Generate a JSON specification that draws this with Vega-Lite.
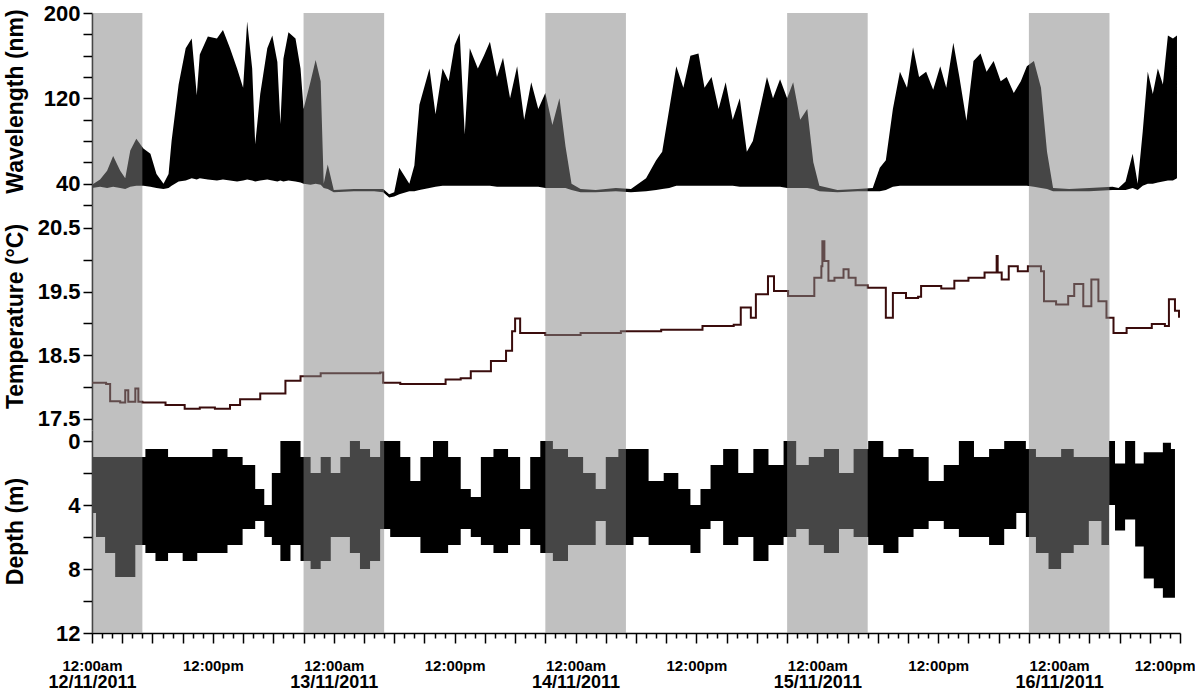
{
  "$schema": "https://vega.github.io/schema/vega-lite/v6.json",
  "background": "white",
  "padding": {"left": 3, "top": 2, "right": 0, "bottom": 0},
  "spacing": 0,
  "bounds": "flush",
  "config": {
    "view": {"stroke": null},
    "font": "Liberation Sans",
    "concat": {"spacing": 0},
    "axis": {
      "grid": false,
      "zindex": 1,
      "domainColor": "black",
      "domainWidth": 1.5,
      "tickColor": "black",
      "tickWidth": 1.5,
      "labelColor": "black",
      "titleColor": "black",
      "labelFont": "Liberation Sans",
      "titleFont": "Liberation Sans",
      "labelFontWeight": "bold",
      "titleFontWeight": "bold",
      "labelFontSize": 22,
      "titleFontSize": 23,
      "labelOverlap": false,
      "labelFlush": false
    }
  },
  "datasets": {
    "night": [
      {"start": 0, "end": 5},
      {"start": 21, "end": 29},
      {"start": 45, "end": 53},
      {"start": 69, "end": 77},
      {"start": 93, "end": 101}
    ],
    "wave": [
      {"hour": 0.0, "lo": 36, "hi": 39}, {"hour": 0.8, "lo": 37, "hi": 44}, {"hour": 1.5, "lo": 36, "hi": 52},
      {"hour": 2.1, "lo": 37, "hi": 66}, {"hour": 2.8, "lo": 36, "hi": 52}, {"hour": 3.3, "lo": 35, "hi": 45},
      {"hour": 3.8, "lo": 37, "hi": 71}, {"hour": 4.4, "lo": 38, "hi": 82}, {"hour": 5.1, "lo": 38, "hi": 73},
      {"hour": 5.8, "lo": 37, "hi": 68}, {"hour": 6.4, "lo": 36, "hi": 49}, {"hour": 7.1, "lo": 35, "hi": 40},
      {"hour": 7.6, "lo": 36, "hi": 49}, {"hour": 7.9, "lo": 38, "hi": 80}, {"hour": 8.6, "lo": 42, "hi": 133},
      {"hour": 9.3, "lo": 43, "hi": 167}, {"hour": 9.9, "lo": 45, "hi": 176}, {"hour": 10.4, "lo": 44, "hi": 123},
      {"hour": 10.7, "lo": 45, "hi": 161}, {"hour": 11.5, "lo": 44, "hi": 178}, {"hour": 12.4, "lo": 43, "hi": 176},
      {"hour": 13.0, "lo": 44, "hi": 184}, {"hour": 13.7, "lo": 43, "hi": 167}, {"hour": 14.4, "lo": 42, "hi": 148},
      {"hour": 15.0, "lo": 43, "hi": 130}, {"hour": 15.4, "lo": 44, "hi": 192}, {"hour": 15.9, "lo": 43, "hi": 148},
      {"hour": 16.2, "lo": 42, "hi": 77}, {"hour": 16.7, "lo": 43, "hi": 124}, {"hour": 17.4, "lo": 44, "hi": 167},
      {"hour": 17.9, "lo": 43, "hi": 179}, {"hour": 18.4, "lo": 42, "hi": 154}, {"hour": 18.7, "lo": 43, "hi": 96},
      {"hour": 19.0, "lo": 42, "hi": 157}, {"hour": 19.5, "lo": 43, "hi": 182}, {"hour": 20.2, "lo": 42, "hi": 176},
      {"hour": 20.7, "lo": 41, "hi": 148}, {"hour": 21.0, "lo": 40, "hi": 110}, {"hour": 21.7, "lo": 39, "hi": 136},
      {"hour": 22.2, "lo": 40, "hi": 156}, {"hour": 22.7, "lo": 39, "hi": 136}, {"hour": 23.0, "lo": 36, "hi": 40},
      {"hour": 23.4, "lo": 35, "hi": 58}, {"hour": 24.0, "lo": 32, "hi": 34}, {"hour": 26.0, "lo": 33, "hi": 35},
      {"hour": 28.0, "lo": 33, "hi": 35}, {"hour": 28.9, "lo": 32, "hi": 35}, {"hour": 29.5, "lo": 27, "hi": 30},
      {"hour": 30.0, "lo": 28, "hi": 32}, {"hour": 30.5, "lo": 30, "hi": 55}, {"hour": 31.5, "lo": 33, "hi": 40},
      {"hour": 32.0, "lo": 33, "hi": 57}, {"hour": 32.5, "lo": 34, "hi": 114}, {"hour": 33.5, "lo": 36, "hi": 148},
      {"hour": 34.1, "lo": 37, "hi": 105}, {"hour": 34.8, "lo": 38, "hi": 148}, {"hour": 35.4, "lo": 38, "hi": 136},
      {"hour": 36.0, "lo": 38, "hi": 170}, {"hour": 36.5, "lo": 38, "hi": 181}, {"hour": 37.0, "lo": 38, "hi": 86},
      {"hour": 37.5, "lo": 38, "hi": 167}, {"hour": 38.3, "lo": 38, "hi": 148}, {"hour": 38.9, "lo": 38, "hi": 160},
      {"hour": 39.5, "lo": 38, "hi": 173}, {"hour": 40.2, "lo": 37, "hi": 140}, {"hour": 40.8, "lo": 37, "hi": 158},
      {"hour": 41.5, "lo": 37, "hi": 120}, {"hour": 42.2, "lo": 37, "hi": 150}, {"hour": 42.9, "lo": 37, "hi": 100},
      {"hour": 43.6, "lo": 37, "hi": 135}, {"hour": 44.3, "lo": 37, "hi": 110}, {"hour": 45.0, "lo": 36, "hi": 125},
      {"hour": 45.7, "lo": 36, "hi": 95}, {"hour": 46.4, "lo": 36, "hi": 120}, {"hour": 47.0, "lo": 36, "hi": 75},
      {"hour": 47.6, "lo": 34, "hi": 40}, {"hour": 48.5, "lo": 32, "hi": 35}, {"hour": 50.0, "lo": 32, "hi": 34},
      {"hour": 52.0, "lo": 33, "hi": 36}, {"hour": 53.5, "lo": 32, "hi": 35}, {"hour": 55.0, "lo": 33, "hi": 45},
      {"hour": 56.0, "lo": 34, "hi": 62}, {"hour": 56.6, "lo": 35, "hi": 70}, {"hour": 57.3, "lo": 36, "hi": 110},
      {"hour": 58.0, "lo": 38, "hi": 150}, {"hour": 58.7, "lo": 38, "hi": 130}, {"hour": 59.4, "lo": 38, "hi": 160},
      {"hour": 60.2, "lo": 38, "hi": 162}, {"hour": 60.8, "lo": 38, "hi": 130}, {"hour": 61.5, "lo": 38, "hi": 140},
      {"hour": 62.2, "lo": 38, "hi": 110}, {"hour": 62.9, "lo": 38, "hi": 135}, {"hour": 63.6, "lo": 38, "hi": 100},
      {"hour": 64.3, "lo": 37, "hi": 120}, {"hour": 65.0, "lo": 37, "hi": 70}, {"hour": 65.6, "lo": 37, "hi": 80},
      {"hour": 66.3, "lo": 37, "hi": 110}, {"hour": 67.0, "lo": 37, "hi": 140}, {"hour": 67.6, "lo": 37, "hi": 120},
      {"hour": 68.3, "lo": 37, "hi": 138}, {"hour": 69.0, "lo": 36, "hi": 120}, {"hour": 69.6, "lo": 36, "hi": 135},
      {"hour": 70.3, "lo": 36, "hi": 100}, {"hour": 71.0, "lo": 36, "hi": 110}, {"hour": 71.6, "lo": 35, "hi": 60},
      {"hour": 72.2, "lo": 33, "hi": 38}, {"hour": 74.0, "lo": 32, "hi": 34}, {"hour": 76.0, "lo": 33, "hi": 35},
      {"hour": 77.5, "lo": 33, "hi": 36}, {"hour": 78.2, "lo": 33, "hi": 55}, {"hour": 78.8, "lo": 34, "hi": 62},
      {"hour": 79.5, "lo": 37, "hi": 110}, {"hour": 80.2, "lo": 38, "hi": 145}, {"hour": 80.9, "lo": 38, "hi": 130},
      {"hour": 81.5, "lo": 38, "hi": 168}, {"hour": 82.1, "lo": 38, "hi": 140}, {"hour": 82.8, "lo": 38, "hi": 145},
      {"hour": 83.5, "lo": 38, "hi": 128}, {"hour": 84.2, "lo": 38, "hi": 150}, {"hour": 84.8, "lo": 38, "hi": 130},
      {"hour": 85.5, "lo": 38, "hi": 172}, {"hour": 86.1, "lo": 38, "hi": 140}, {"hour": 86.8, "lo": 38, "hi": 99},
      {"hour": 87.5, "lo": 38, "hi": 155}, {"hour": 88.2, "lo": 38, "hi": 162}, {"hour": 88.8, "lo": 38, "hi": 145},
      {"hour": 89.5, "lo": 38, "hi": 155}, {"hour": 90.2, "lo": 38, "hi": 136}, {"hour": 90.8, "lo": 38, "hi": 140},
      {"hour": 91.5, "lo": 38, "hi": 125}, {"hour": 92.2, "lo": 38, "hi": 136}, {"hour": 92.8, "lo": 38, "hi": 150},
      {"hour": 93.5, "lo": 37, "hi": 155}, {"hour": 94.2, "lo": 36, "hi": 130}, {"hour": 94.8, "lo": 35, "hi": 70},
      {"hour": 95.4, "lo": 33, "hi": 36}, {"hour": 97.0, "lo": 33, "hi": 35}, {"hour": 99.0, "lo": 33, "hi": 36},
      {"hour": 101.3, "lo": 34, "hi": 37}, {"hour": 101.9, "lo": 34, "hi": 36}, {"hour": 102.6, "lo": 34, "hi": 42},
      {"hour": 103.3, "lo": 36, "hi": 68}, {"hour": 103.8, "lo": 34, "hi": 40}, {"hour": 104.3, "lo": 38, "hi": 89},
      {"hour": 104.8, "lo": 40, "hi": 145}, {"hour": 105.3, "lo": 40, "hi": 124}, {"hour": 105.8, "lo": 41, "hi": 148},
      {"hour": 106.3, "lo": 42, "hi": 133}, {"hour": 106.8, "lo": 43, "hi": 179}, {"hour": 107.3, "lo": 43, "hi": 176},
      {"hour": 107.7, "lo": 45, "hi": 179}
    ],
    "temp": [
      {"hour": 0.0, "temp": 18.07}, {"hour": 0.8, "temp": 18.07}, {"hour": 1.4, "temp": 18.05}, {"hour": 1.8, "temp": 17.78},
      {"hour": 2.8, "temp": 17.76}, {"hour": 3.3, "temp": 17.95}, {"hour": 3.6, "temp": 17.77}, {"hour": 4.3, "temp": 17.98},
      {"hour": 4.6, "temp": 17.77}, {"hour": 5.0, "temp": 17.76}, {"hour": 6.3, "temp": 17.76}, {"hour": 7.3, "temp": 17.72},
      {"hour": 9.2, "temp": 17.66}, {"hour": 10.7, "temp": 17.68}, {"hour": 12.2, "temp": 17.66}, {"hour": 13.7, "temp": 17.72},
      {"hour": 14.7, "temp": 17.81}, {"hour": 16.7, "temp": 17.9}, {"hour": 19.2, "temp": 18.1}, {"hour": 20.7, "temp": 18.17},
      {"hour": 22.7, "temp": 18.22}, {"hour": 25.6, "temp": 18.22}, {"hour": 28.6, "temp": 18.23}, {"hour": 28.9, "temp": 18.07},
      {"hour": 30.6, "temp": 18.05}, {"hour": 33.6, "temp": 18.05}, {"hour": 35.1, "temp": 18.12}, {"hour": 36.6, "temp": 18.14},
      {"hour": 37.6, "temp": 18.25}, {"hour": 39.6, "temp": 18.41}, {"hour": 41.1, "temp": 18.57}, {"hour": 41.7, "temp": 18.88},
      {"hour": 42.0, "temp": 19.08}, {"hour": 42.5, "temp": 18.85}, {"hour": 45.0, "temp": 18.82}, {"hour": 48.5, "temp": 18.85},
      {"hour": 52.5, "temp": 18.88}, {"hour": 56.5, "temp": 18.9}, {"hour": 60.6, "temp": 18.96}, {"hour": 63.7, "temp": 18.98},
      {"hour": 64.4, "temp": 19.25}, {"hour": 65.4, "temp": 19.09}, {"hour": 65.9, "temp": 19.46}, {"hour": 67.1, "temp": 19.74},
      {"hour": 67.7, "temp": 19.51}, {"hour": 68.9, "temp": 19.51}, {"hour": 69.1, "temp": 19.43}, {"hour": 71.4, "temp": 19.43},
      {"hour": 71.7, "temp": 19.72}, {"hour": 72.4, "temp": 19.9}, {"hour": 72.5, "temp": 20.29}, {"hour": 72.7, "temp": 19.98},
      {"hour": 73.1, "temp": 19.67}, {"hour": 73.7, "temp": 19.72}, {"hour": 74.6, "temp": 19.85}, {"hour": 75.1, "temp": 19.72},
      {"hour": 75.8, "temp": 19.6}, {"hour": 77.0, "temp": 19.56}, {"hour": 78.3, "temp": 19.56}, {"hour": 78.8, "temp": 19.09},
      {"hour": 79.5, "temp": 19.48}, {"hour": 80.8, "temp": 19.4}, {"hour": 82.0, "temp": 19.42}, {"hour": 82.3, "temp": 19.59},
      {"hour": 84.3, "temp": 19.55}, {"hour": 85.6, "temp": 19.67}, {"hour": 87.0, "temp": 19.72}, {"hour": 88.6, "temp": 19.8},
      {"hour": 89.7, "temp": 19.8}, {"hour": 89.8, "temp": 20.06}, {"hour": 89.9, "temp": 19.8}, {"hour": 90.3, "temp": 19.69},
      {"hour": 91.0, "temp": 19.9}, {"hour": 91.9, "temp": 19.82}, {"hour": 92.9, "temp": 19.9}, {"hour": 94.2, "temp": 19.82},
      {"hour": 94.5, "temp": 19.35}, {"hour": 95.7, "temp": 19.3}, {"hour": 96.9, "temp": 19.43}, {"hour": 97.5, "temp": 19.62},
      {"hour": 98.4, "temp": 19.27}, {"hour": 99.2, "temp": 19.69}, {"hour": 99.9, "temp": 19.35}, {"hour": 100.7, "temp": 19.09},
      {"hour": 101.4, "temp": 18.85}, {"hour": 102.7, "temp": 18.93}, {"hour": 105.2, "temp": 18.99}, {"hour": 106.5, "temp": 18.96},
      {"hour": 106.9, "temp": 19.38}, {"hour": 107.5, "temp": 19.2}, {"hour": 107.9, "temp": 19.09}
    ],
    "depth": [
      {"hour": 0.0, "top": 1, "bottom": 4.5}, {"hour": 0.8, "top": 1, "bottom": 6}, {"hour": 1.8, "top": 1, "bottom": 7},
      {"hour": 2.8, "top": 1, "bottom": 8.5}, {"hour": 3.8, "top": 1, "bottom": 8.5}, {"hour": 4.8, "top": 1, "bottom": 6.5},
      {"hour": 5.8, "top": 0.5, "bottom": 7}, {"hour": 6.8, "top": 0.5, "bottom": 7.5}, {"hour": 8.3, "top": 1, "bottom": 7},
      {"hour": 9.7, "top": 1, "bottom": 7.5}, {"hour": 11.2, "top": 1, "bottom": 7}, {"hour": 12.7, "top": 0.5, "bottom": 7},
      {"hour": 14.2, "top": 1, "bottom": 6.5}, {"hour": 15.7, "top": 1.5, "bottom": 5.5}, {"hour": 16.7, "top": 3, "bottom": 5},
      {"hour": 17.5, "top": 4, "bottom": 6}, {"hour": 18.2, "top": 2, "bottom": 6.5}, {"hour": 19.2, "top": 0, "bottom": 7.5},
      {"hour": 20.2, "top": 0, "bottom": 6.5}, {"hour": 21.2, "top": 1, "bottom": 7.5}, {"hour": 22.2, "top": 2, "bottom": 8},
      {"hour": 23.2, "top": 1, "bottom": 7.5}, {"hour": 24.2, "top": 2, "bottom": 6}, {"hour": 25.1, "top": 1, "bottom": 6},
      {"hour": 26.1, "top": 0, "bottom": 7}, {"hour": 27.1, "top": 0.5, "bottom": 8}, {"hour": 28.1, "top": 1, "bottom": 7.5},
      {"hour": 29.1, "top": 0, "bottom": 5.5}, {"hour": 30.1, "top": 0, "bottom": 6}, {"hour": 31.1, "top": 1, "bottom": 6},
      {"hour": 32.1, "top": 2.5, "bottom": 6}, {"hour": 33.1, "top": 1, "bottom": 7}, {"hour": 34.6, "top": 0, "bottom": 7},
      {"hour": 36.1, "top": 1, "bottom": 6.5}, {"hour": 37.1, "top": 3, "bottom": 5.5}, {"hour": 38.1, "top": 3.5, "bottom": 6},
      {"hour": 39.1, "top": 1, "bottom": 6.5}, {"hour": 40.6, "top": 0.5, "bottom": 7}, {"hour": 42.0, "top": 1, "bottom": 6.5},
      {"hour": 43.0, "top": 3, "bottom": 5.5}, {"hour": 44.0, "top": 1, "bottom": 6.5}, {"hour": 45.0, "top": 0, "bottom": 7},
      {"hour": 46.5, "top": 0.5, "bottom": 7.5}, {"hour": 48.0, "top": 1, "bottom": 6.5}, {"hour": 49.5, "top": 2, "bottom": 6.5},
      {"hour": 50.5, "top": 3, "bottom": 5}, {"hour": 51.5, "top": 1, "bottom": 6.5}, {"hour": 53.0, "top": 0.5, "bottom": 6.5},
      {"hour": 54.5, "top": 0.5, "bottom": 6}, {"hour": 56.0, "top": 2.5, "bottom": 6.5}, {"hour": 57.5, "top": 2, "bottom": 6.5},
      {"hour": 58.9, "top": 3, "bottom": 6.5}, {"hour": 59.9, "top": 4, "bottom": 7}, {"hour": 60.9, "top": 3, "bottom": 5.5},
      {"hour": 61.9, "top": 1.5, "bottom": 5}, {"hour": 63.4, "top": 0.5, "bottom": 6.5}, {"hour": 64.9, "top": 2, "bottom": 6},
      {"hour": 66.4, "top": 0.5, "bottom": 7.5}, {"hour": 67.9, "top": 1.5, "bottom": 6.5}, {"hour": 69.4, "top": 0, "bottom": 6},
      {"hour": 70.4, "top": 1.5, "bottom": 5.5}, {"hour": 71.9, "top": 1, "bottom": 6.5}, {"hour": 73.4, "top": 0.5, "bottom": 7},
      {"hour": 74.9, "top": 2, "bottom": 5.5}, {"hour": 76.3, "top": 0.5, "bottom": 6}, {"hour": 77.8, "top": 0, "bottom": 6.5},
      {"hour": 79.3, "top": 1, "bottom": 7}, {"hour": 80.8, "top": 0.5, "bottom": 6}, {"hour": 82.3, "top": 1, "bottom": 5.5},
      {"hour": 83.8, "top": 2.5, "bottom": 5}, {"hour": 85.3, "top": 1.5, "bottom": 5.5}, {"hour": 86.8, "top": 0, "bottom": 6},
      {"hour": 88.3, "top": 1, "bottom": 6}, {"hour": 89.8, "top": 0.5, "bottom": 6.5}, {"hour": 91.3, "top": 0, "bottom": 5.5},
      {"hour": 92.2, "top": 0, "bottom": 4.5}, {"hour": 93.2, "top": 0.5, "bottom": 6}, {"hour": 94.2, "top": 1, "bottom": 7},
      {"hour": 95.7, "top": 1, "bottom": 8}, {"hour": 96.7, "top": 0.5, "bottom": 7}, {"hour": 98.2, "top": 1, "bottom": 6.5},
      {"hour": 99.7, "top": 1, "bottom": 5}, {"hour": 100.7, "top": 1, "bottom": 6.5}, {"hour": 101.2, "top": 0, "bottom": 4},
      {"hour": 101.9, "top": 1.4, "bottom": 5.6}, {"hour": 103.2, "top": 0, "bottom": 4.9}, {"hour": 103.9, "top": 1.4, "bottom": 6.6},
      {"hour": 104.9, "top": 0.7, "bottom": 8.6}, {"hour": 105.9, "top": 0.7, "bottom": 9.2}, {"hour": 106.7, "top": 0.1, "bottom": 9.8},
      {"hour": 107.5, "top": 0.5, "bottom": 9.8}
    ]
  },
  "vconcat": [
    {
      "width": 1088,
      "height": 192,
      "layer": [
        {
          "data": {"name": "wave"},
          "mark": {"type": "area", "color": "black", "interpolate": "linear"},
          "encoding": {
            "x": {"field": "hour", "type": "quantitative", "scale": {"domain": [0, 108], "nice": false, "zero": false}, "axis": null},
            "y": {
              "field": "hi", "type": "quantitative",
              "scale": {"domain": [20, 200], "nice": false, "zero": false},
              "axis": {
                "title": "Wavelength (nm)",
                "values": [20, 40, 60, 80, 100, 120, 140, 160, 180, 200],
                "labelExpr": "(datum.value == 40 || datum.value == 120 || datum.value == 200) ? datum.label : ''",
                "tickSize": 9, "labelPadding": 3,
                "titleX": -70, "titleY": 88, "titleAngle": -90, "titleAlign": "center", "titleBaseline": "alphabetic"
              }
            },
            "y2": {"field": "lo"}
          }
        },
        {
          "data": {"name": "night"},
          "mark": {"type": "rect", "color": "#868686", "opacity": 0.52},
          "encoding": {
            "x": {"field": "start", "type": "quantitative"},
            "x2": {"field": "end"}
          }
        }
      ]
    },
    {
      "width": 1088,
      "height": 225,
      "layer": [
        {
          "data": {"name": "temp"},
          "mark": {"type": "line", "color": "#3a0c0c", "strokeWidth": 2, "interpolate": "step-after"},
          "encoding": {
            "x": {"field": "hour", "type": "quantitative", "scale": {"domain": [0, 108], "nice": false, "zero": false}, "axis": null},
            "y": {
              "field": "temp", "type": "quantitative",
              "scale": {"domain": [17.327, 20.861], "nice": false, "zero": false},
              "axis": {
                "title": "Temperature (°C)",
                "values": [17.5, 18, 18.5, 19, 19.5, 20, 20.5],
                "labelExpr": "(datum.value == 17.5 || datum.value == 18.5 || datum.value == 19.5 || datum.value == 20.5) ? format(datum.value, '.1f') : ''",
                "tickSize": 9, "labelPadding": 3,
                "titleX": -70, "titleY": 111, "titleAngle": -90, "titleAlign": "center", "titleBaseline": "alphabetic"
              }
            }
          }
        },
        {
          "data": {"name": "night"},
          "mark": {"type": "rect", "color": "#868686", "opacity": 0.52},
          "encoding": {
            "x": {"field": "start", "type": "quantitative"},
            "x2": {"field": "end"}
          }
        }
      ]
    },
    {
      "width": 1088,
      "height": 203,
      "resolve": {"axis": {"x": "independent"}},
      "layer": [
        {
          "data": {"name": "depth"},
          "mark": {"type": "area", "color": "black", "interpolate": "step"},
          "encoding": {
            "x": {
              "field": "hour", "type": "quantitative",
              "scale": {"domain": [0, 108], "nice": false, "zero": false},
              "axis": {
                "orient": "bottom",
                "title": null,
                "values": [0,1,2,3,4,5,6,7,8,9,10,11,12,13,14,15,16,17,18,19,20,21,22,23,24,25,26,27,28,29,30,31,32,33,34,35,36,37,38,39,40,41,42,43,44,45,46,47,48,49,50,51,52,53,54,55,56,57,58,59,60,61,62,63,64,65,66,67,68,69,70,71,72,73,74,75,76,77,78,79,80,81,82,83,84,85,86,87,88,89,90,91,92,93,94,95,96,97,98,99,100,101,102,103,104,105,106,107,108],
                "tickSize": {"condition": {"test": "datum.value % 3 === 0", "value": 10}, "value": 5},
                "labelExpr": "datum.value % 24 === 0 ? '12:00am' : (datum.value % 12 === 0 ? '12:00pm' : '')",
                "labelFontSize": 15,
                "labelPadding": 15,
                "labelAlign": {"condition": {"test": "datum.value === 108", "value": "right"}, "value": "center"},
                "labelOffset": {"condition": {"test": "datum.value === 108", "value": 15}, "value": 0}
              }
            },
            "y": {
              "field": "top", "type": "quantitative",
              "scale": {"domain": [-0.69, 12], "reverse": true, "nice": false, "zero": false},
              "axis": {
                "title": "Depth (m)",
                "values": [0, 2, 4, 6, 8, 10, 12],
                "labelExpr": "(datum.value % 4 === 0) ? datum.label : ''",
                "tickSize": 9, "labelPadding": 3,
                "titleX": -70, "titleY": 101, "titleAngle": -90, "titleAlign": "center", "titleBaseline": "alphabetic"
              }
            },
            "y2": {"field": "bottom"}
          }
        },
        {
          "data": {"name": "night"},
          "mark": {"type": "rect", "color": "#868686", "opacity": 0.52},
          "encoding": {
            "x": {
              "field": "start", "type": "quantitative",
              "axis": {
                "orient": "bottom",
                "title": null,
                "values": [0, 24, 48, 72, 96],
                "labelExpr": "(12 + datum.value / 24) + '/11/2011'",
                "labelFontSize": 18,
                "ticks": false,
                "domain": false,
                "labelPadding": 40
              }
            },
            "x2": {"field": "end"}
          }
        }
      ]
    }
  ]
}
